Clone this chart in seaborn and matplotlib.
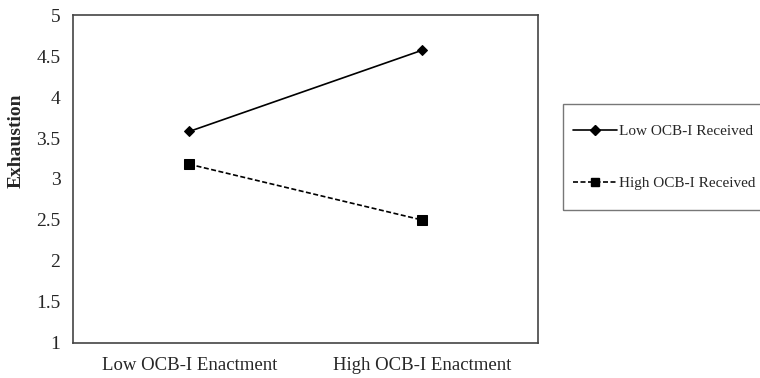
import seaborn as sns
import pandas as pd
import matplotlib.pyplot as plt
from matplotlib.lines import Line2D
from matplotlib.patches import Rectangle

sns.set_style("white")
plt.rcParams['font.family'] = ['Liberation Serif', 'DejaVu Serif']

enactment = ['Low OCB-I Enactment', 'High OCB-I Enactment']
low_received = [3.58, 4.57]
high_received = [3.18, 2.50]
groups = ['Low OCB-I Received', 'High OCB-I Received']

df = pd.DataFrame({
    'Enactment': enactment * 2,
    'Exhaustion': low_received + high_received,
    'Group': [groups[0]] * 2 + [groups[1]] * 2,
})

fig = plt.figure(figsize=(7.6, 3.78), dpi=100)
ax = fig.add_axes([0.096, 0.093, 0.612, 0.867])

sns.lineplot(data=df, x='Enactment', y='Exhaustion', hue='Group', style='Group',
             palette=['black', 'black'], markers={groups[0]: 'D', groups[1]: 's'},
             dashes={groups[0]: '', groups[1]: (3, 1.5)}, linewidth=1.2,
             markeredgecolor='black', ax=ax, legend=False)
for line, ms in zip(ax.lines, [5, 7]):
    line.set_markersize(ms)

ax.set_xlim(-0.5, 1.5)
ax.set_ylim(1, 5)
ax.set_yticks([1, 1.5, 2, 2.5, 3, 3.5, 4, 4.5, 5])
ax.set_yticklabels(['1', '1.5', '2', '2.5', '3', '3.5', '4', '4.5', '5'])
ax.set_xticks([-0.5, 0.5, 1.5])
ax.set_xticklabels(['', '', ''])
ax.set_xticks([0, 1], minor=True)
ax.set_xticklabels(enactment, minor=True)
ax.tick_params(axis='x', which='minor', length=0, pad=10, labelsize=13.5)
ax.tick_params(axis='x', which='major', length=5, direction='out', color='#444444')
ax.tick_params(axis='y', length=5, direction='out', labelsize=14, color='#444444', pad=4)
ax.set_xlabel('')
ax.set_ylabel('Exhaustion', fontweight='bold', fontsize=14)
ax.yaxis.set_label_coords(-0.104, 0.616)
for s in ax.spines.values():
    s.set_color('#444444')
    s.set_linewidth(1.2)

# legend box, runs off the right edge like the original
fig.patches.append(Rectangle((563 / 760, 1 - 210 / 378), 220 / 760, 106 / 378,
                             transform=fig.transFigure, fill=False,
                             edgecolor='#777777', linewidth=1.0))
handles = [
    Line2D([], [], color='black', lw=1.2, marker='D', markersize=5),
    Line2D([], [], color='black', lw=1.2, ls=(0, (3, 1.5)), marker='s', markersize=6),
]
leg = fig.legend(handles, groups, loc='upper left', bbox_to_anchor=(0.748, 0.682),
                 frameon=False, fontsize=11, handlelength=2.9,
                 labelspacing=2.5, borderpad=0.3, handletextpad=0.1, borderaxespad=0)

fig.savefig('out.png', dpi=100)
